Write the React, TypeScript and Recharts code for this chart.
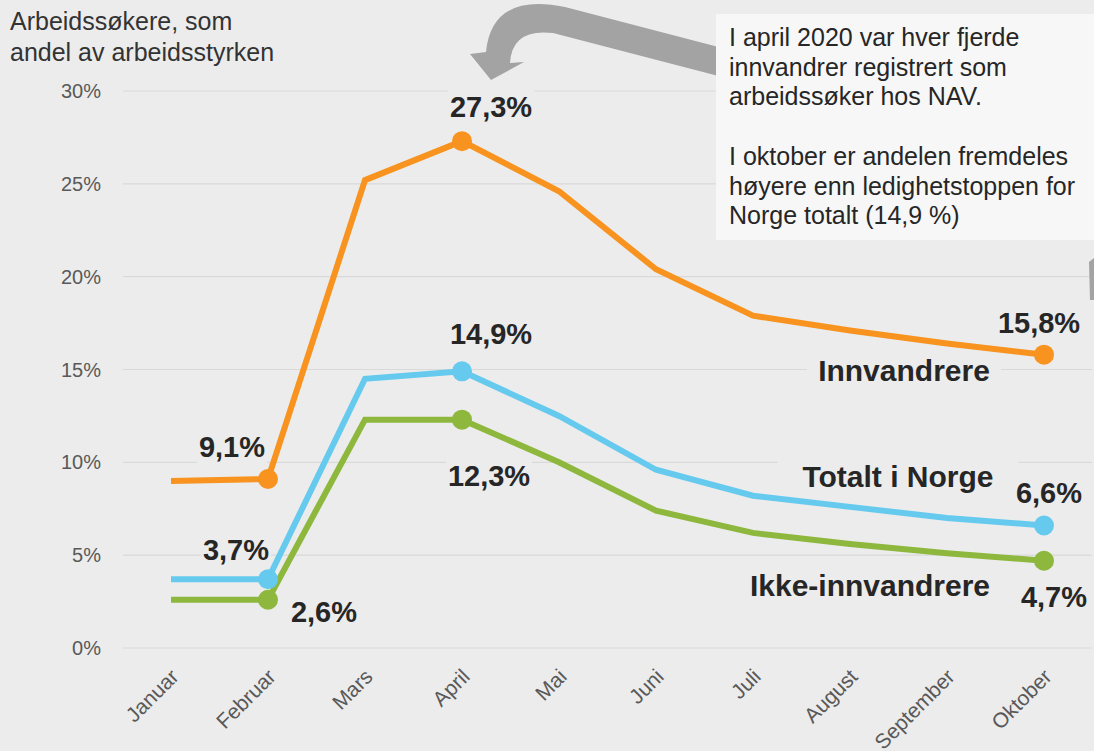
import { LineChart, Line, XAxis, YAxis, CartesianGrid, LabelList } from "recharts";

const months = ["Januar", "Februar", "Mars", "April", "Mai", "Juni", "Juli", "August", "September", "Oktober"];
const innvandrere = [9.0, 9.1, 25.2, 27.3, 24.6, 20.4, 17.9, 17.1, 16.4, 15.8];
const totalt = [3.7, 3.7, 14.5, 14.9, 12.5, 9.6, 8.2, 7.6, 7.0, 6.6];
const ikkeInnvandrere = [2.6, 2.6, 12.3, 12.3, 10.0, 7.4, 6.2, 5.6, 5.1, 4.7];
const yTicks = [0, 5, 10, 15, 20, 25, 30];
const markedPoints = [1, 3, 9];

const seriesNames = {
  innvandrere: "Innvandrere",
  totalt: "Totalt i Norge",
  ikke: "Ikke-innvandrere",
};

const noteLines = [
  "I april 2020 var hver fjerde",
  "innvandrer registrert som",
  "arbeidssøker hos NAV.",
  "",
  "I oktober er andelen fremdeles",
  "høyere enn ledighetstoppen for",
  "Norge totalt (14,9 %)",
];

const data = months.map((m, i) => ({
  month: m,
  innvandrere: innvandrere[i],
  totalt: totalt[i],
  ikke: ikkeInnvandrere[i],
}));

// label placement relative to the point (center of text)
const valueOffsets: Record<string, Record<number, [number, number]>> = {
  innvandrere: { 1: [-36, -32], 3: [29, -35], 9: [-5, -32] },
  totalt: { 1: [-32, -30], 3: [29, -38], 9: [5, -33] },
  ikke: { 1: [56, 12], 3: [27, 56], 9: [10, 36] },
};
const nameOffsets: Record<string, [number, number]> = {
  innvandrere: [-140, 16],
  totalt: [-146, -49],
  ikke: [-174, 24],
};

const BG = "#ececec";
const FONT = "'Liberation Sans', Arial, sans-serif";
const TEXT = "#262626";

const fmt = (v: number) => `${v.toFixed(1).replace(".", ",")}%`;

const makeDot = (color: string) => (props: any) => {
  const { cx, cy, index } = props;
  if (!markedPoints.includes(index)) return <g key={`d${index}`} />;
  return <circle key={`d${index}`} cx={cx} cy={cy} r={10} fill={color} stroke="none" />;
};

const makeLabel = (key: string) => (props: any) => {
  const index = props.index;
  const x = props.x ?? props.viewBox?.x;
  const y = props.y ?? props.viewBox?.y;
  const off = valueOffsets[key][index];
  const parts = [];
  if (index === months.length - 1) {
    const n = nameOffsets[key];
    const name = seriesNames[key as keyof typeof seriesNames];
    const w = name.length * 15.5;
    parts.push(
      <g key="n">
        <rect x={x + n[0] - w / 2 - 12} y={y + n[1] - 17} width={w + 24} height={34} fill={BG} />
        <text
          x={x + n[0]}
          y={y + n[1]}
          dy="0.36em"
          textAnchor="middle"
          fontFamily={FONT}
          fontWeight="bold"
          fontSize={30}
          fill={TEXT}
        >
          {name}
        </text>
      </g>
    );
  }
  if (off) {
    const txt = fmt(Number(props.value));
    const w = txt.length * 16;
    parts.push(
      <g key="v">
        <rect x={x + off[0] - w / 2 - 3} y={y + off[1] - 16} width={w + 6} height={32} fill={BG} />
        <text
          x={x + off[0]}
          y={y + off[1]}
          dy="0.36em"
          textAnchor="middle"
          fontFamily={FONT}
          fontWeight="bold"
          fontSize={29}
          fill={TEXT}
        >
          {txt}
        </text>
      </g>
    );
  }
  return <g>{parts}</g>;
};

const MonthTick = (props: any) => {
  const { x, y, payload } = props;
  const ox = x + 9;
  const oy = y + 22;
  return (
    <text
      x={ox}
      y={oy}
      textAnchor="end"
      transform={`rotate(-45, ${ox}, ${oy})`}
      fontFamily={FONT}
      fontSize={21}
      fill="#595959"
    >
      {payload.value}
    </text>
  );
};

const series = [
  { key: "innvandrere", color: "#F7931E" },
  { key: "totalt", color: "#66CAEE" },
  { key: "ikke", color: "#8DB83D" },
];

export default function App() {
  return (
    <div style={{ position: "absolute", left: 0, top: 0, width: 1094, height: 751, background: BG, overflow: "hidden" }}>
      <LineChart width={1094} height={751} data={data} margin={{ top: 91, right: 2, bottom: 0, left: 0 }}>
        <CartesianGrid vertical={false} stroke="#d9d9d9" strokeWidth={1.2} />
        <XAxis
          dataKey="month"
          height={103}
          axisLine={false}
          tickLine={false}
          interval={0}
          padding={{ left: 48, right: 48 }}
          tick={<MonthTick />}
        />
        <YAxis
          width={123}
          domain={[0, 30]}
          ticks={yTicks}
          axisLine={false}
          tickLine={false}
          tickMargin={16}
          tickFormatter={(v) => `${v}%`}
          tick={{ fontFamily: FONT, fontSize: 20, fill: "#595959" }}
        />
        {series.map((s) => (
          <Line
            key={s.key}
            type="linear"
            dataKey={s.key}
            stroke={s.color}
            strokeWidth={6}
            dot={makeDot(s.color)}
            activeDot={false}
            isAnimationActive={false}
          >
            <LabelList dataKey={s.key} content={makeLabel(s.key)} />
          </Line>
        ))}
      </LineChart>

      <div
        style={{
          position: "absolute",
          left: 10,
          top: 6,
          fontFamily: FONT,
          fontSize: 25,
          lineHeight: "31px",
          color: "#333333",
        }}
      >
        Arbeidssøkere, som
        <br />
        andel av arbeidsstyrken
      </div>

      <svg width={1094} height={751} style={{ position: "absolute", left: 0, top: 0, pointerEvents: "none" }}>
        <path
          d="M 730 50 L 565 7 Q 492 -8 486 52 L 470 54 L 491 80 L 524 62 L 510 63 Q 512 28 553 33 L 730 79 Z"
          fill="#a3a3a3"
        />
        <path d="M 1089 262 L 1094 258 L 1094 300 L 1090 300 Z" fill="#a3a3a3" />
        <rect x={716} y={14} width={380} height={226} fill="#f7f7f7" />
        {noteLines.map((line, i) => (
          <text key={i} x={729} y={46 + i * 29.7} fontFamily={FONT} fontSize={25} fill={TEXT}>
            {line}
          </text>
        ))}
      </svg>
    </div>
  );
}
